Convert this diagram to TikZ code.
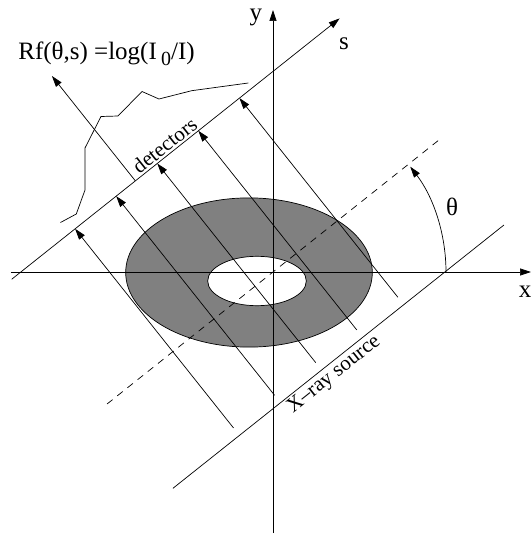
\documentclass[tikz,border=0pt]{standalone}
\usepackage{fontspec}
\setmainfont{Liberation Serif}
\usetikzlibrary{arrows.meta}

\tikzset{
  big label/.style={font=\fontsize{25}{30}\selectfont, inner sep=0pt},
  side label/.style={font=\fontsize{21}{25}\selectfont, inner sep=2pt, rotate=38.5},
}

\begin{document}
\begin{tikzpicture}[>={Triangle[length=11pt,width=7pt]}, x=1pt, y=1pt,
   line width=0.7pt]
  \useasboundingbox (-273,-264) rectangle (258,272);
  % object with hole
  \filldraw[fill=gray, even odd rule]
    (-24,-0.5) ellipse[x radius=123.3, y radius=74.6]
    (-16,-9) ellipse[x radius=49.3, y radius=24.7];
  % axes
  \coordinate (xl) at (-262,0);
  \coordinate (xr) at (258,0);
  \coordinate (yb) at (0,-261);
  \coordinate (yt) at (0,262);
  \draw[->] (xl) -- (xr);
  \draw[->] (yb) -- (yt);
  \node (xlab) at (252,-20) [big label] {x};
  \node (ylab) at (-17,255) [big label] {y};
  % rotated frame
  \begin{scope}[rotate=38.5]
    \coordinate (s0) at (-209,157);
    \coordinate (s1) at (210,157);
    \coordinate (d0) at (-212,0);
    \coordinate (d1) at (211,0);
    \coordinate (q0) at (-213,-107);
    \coordinate (q1) at (210,-107);
    \draw[->] (s0) -- (s1);
    \draw[dash pattern=on 7pt off 6pt] (d0) -- (d1);
    \draw (q0) -- (q1);
    \node (detlab) at (-6,157) [side label, anchor=south] {detectors};
    \node (srclab) at (-16,-107) [side label, anchor=north] {X--ray source};
    \foreach \t [count=\i] in {-128,-75.5,-23,29.5,82} {
      \coordinate (ra\i) at (\t,-97.5);
      \coordinate (rb\i) at (\t,157);
      \draw[->] (ra\i) -- (rb\i);
    }
    \coordinate (out0) at (-51,157);
    \coordinate (out1) at (-51,291);
    \draw[->] (out0) -- (out1);
  \end{scope}
  \node (slab) at (71,228) [big label] {s};
  % angle
  \coordinate (a0) at (173,0);
  \draw[->] (a0) arc[start angle=0, end angle=37.5, radius=173];
  \node (thlab) at (179,65) [big label] {θ};
  % measured profile
  \draw (-212.5,49.5) -- (-196.7,58) -- (-188,82) -- (-188,124)
    -- (-172,155.5) -- (-155,156) -- (-131,180.5) -- (-114,173)
    -- (-81.3,181.3) -- (-24.7,189);
  \node (rf) at (-255,212) [big label, anchor=base west]
    {Rf(θ,s) =log(I\,\raisebox{-6pt}{\fontsize{20}{20}\selectfont 0}/I)};
\end{tikzpicture}
\end{document}
